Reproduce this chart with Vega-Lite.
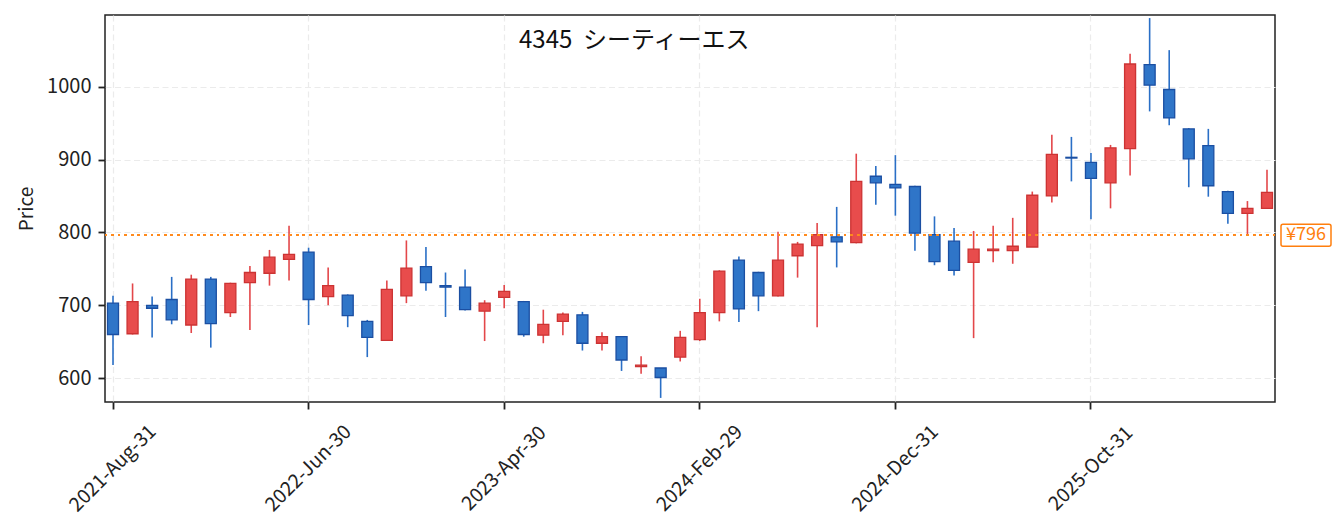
{
  "$schema": "https://vega.github.io/schema/vega-lite/v6.json",
  "width": 1170,
  "height": 387,
  "autosize": {"type": "none"},
  "padding": {"left": 105, "top": 15, "right": 66, "bottom": 130},
  "background": "white",
  "title": {"text": "4345\u00a0\u00a0シーティーエス", "anchor": "start", "frame": "group", "dx": 414, "offset": -38, "baseline": "top", "font": "Noto Sans CJK JP", "fontSize": 24, "fontWeight": "normal", "color": "#111111"},
  "config": {"view": {"stroke": "#222222", "strokeWidth": 1.5}, "font": "Noto Sans CJK JP"},
  "data": {"values": [
    {"date": "2021-Aug-31", "open": 703, "high": 713, "low": 618, "close": 660},
    {"date": "2021-Sep-30", "open": 661, "high": 730, "low": 660, "close": 705},
    {"date": "2021-Oct-31", "open": 700, "high": 712, "low": 656, "close": 696},
    {"date": "2021-Nov-30", "open": 708, "high": 739, "low": 674, "close": 680},
    {"date": "2021-Dec-31", "open": 673, "high": 742, "low": 662, "close": 736},
    {"date": "2022-Jan-31", "open": 736, "high": 739, "low": 642, "close": 675},
    {"date": "2022-Feb-28", "open": 690, "high": 731, "low": 684, "close": 730},
    {"date": "2022-Mar-31", "open": 731, "high": 754, "low": 666, "close": 745},
    {"date": "2022-Apr-30", "open": 744, "high": 776, "low": 727, "close": 766},
    {"date": "2022-May-31", "open": 763, "high": 809, "low": 734, "close": 770},
    {"date": "2022-Jun-30", "open": 773, "high": 779, "low": 673, "close": 708},
    {"date": "2022-Jul-31", "open": 712, "high": 752, "low": 700, "close": 727},
    {"date": "2022-Aug-31", "open": 714, "high": 715, "low": 670, "close": 686},
    {"date": "2022-Sep-30", "open": 678, "high": 680, "low": 629, "close": 656},
    {"date": "2022-Oct-31", "open": 652, "high": 734, "low": 651, "close": 722},
    {"date": "2022-Nov-30", "open": 713, "high": 789, "low": 703, "close": 751},
    {"date": "2022-Dec-31", "open": 753, "high": 780, "low": 720, "close": 731},
    {"date": "2023-Jan-31", "open": 727, "high": 745, "low": 684, "close": 725},
    {"date": "2023-Feb-28", "open": 725, "high": 749, "low": 693, "close": 694},
    {"date": "2023-Mar-31", "open": 692, "high": 707, "low": 651, "close": 703},
    {"date": "2023-Apr-30", "open": 711, "high": 728, "low": 696, "close": 719},
    {"date": "2023-May-31", "open": 705, "high": 706, "low": 657, "close": 660},
    {"date": "2023-Jun-30", "open": 659, "high": 694, "low": 648, "close": 674},
    {"date": "2023-Jul-31", "open": 678, "high": 690, "low": 659, "close": 688},
    {"date": "2023-Aug-31", "open": 687, "high": 691, "low": 638, "close": 648},
    {"date": "2023-Sep-30", "open": 648, "high": 663, "low": 638, "close": 657},
    {"date": "2023-Oct-31", "open": 657, "high": 657, "low": 610, "close": 625},
    {"date": "2023-Nov-30", "open": 616, "high": 630, "low": 606, "close": 618},
    {"date": "2023-Dec-31", "open": 614, "high": 614, "low": 573, "close": 601},
    {"date": "2024-Jan-31", "open": 629, "high": 665, "low": 623, "close": 656},
    {"date": "2024-Feb-29", "open": 653, "high": 709, "low": 651, "close": 690},
    {"date": "2024-Mar-31", "open": 690, "high": 748, "low": 678, "close": 747},
    {"date": "2024-Apr-30", "open": 762, "high": 767, "low": 677, "close": 695},
    {"date": "2024-May-31", "open": 745, "high": 746, "low": 692, "close": 713},
    {"date": "2024-Jun-30", "open": 713, "high": 801, "low": 712, "close": 762},
    {"date": "2024-Jul-31", "open": 768, "high": 787, "low": 738, "close": 784},
    {"date": "2024-Aug-31", "open": 782, "high": 813, "low": 670, "close": 797},
    {"date": "2024-Sep-30", "open": 794, "high": 835, "low": 752, "close": 787},
    {"date": "2024-Oct-31", "open": 786, "high": 908, "low": 785, "close": 870},
    {"date": "2024-Nov-30", "open": 877, "high": 891, "low": 838, "close": 868},
    {"date": "2024-Dec-31", "open": 866, "high": 906, "low": 823, "close": 861},
    {"date": "2025-Jan-31", "open": 863, "high": 864, "low": 775, "close": 799},
    {"date": "2025-Feb-28", "open": 797, "high": 822, "low": 755, "close": 760},
    {"date": "2025-Mar-31", "open": 788, "high": 806, "low": 741, "close": 748},
    {"date": "2025-Apr-30", "open": 759, "high": 802, "low": 655, "close": 777},
    {"date": "2025-May-31", "open": 775, "high": 809, "low": 759, "close": 777},
    {"date": "2025-Jun-30", "open": 775, "high": 820, "low": 757, "close": 781},
    {"date": "2025-Jul-31", "open": 780, "high": 856, "low": 780, "close": 851},
    {"date": "2025-Aug-31", "open": 850, "high": 934, "low": 841, "close": 907},
    {"date": "2025-Sep-30", "open": 903, "high": 931, "low": 870, "close": 902},
    {"date": "2025-Oct-31", "open": 896, "high": 909, "low": 818, "close": 874},
    {"date": "2025-Nov-30", "open": 868, "high": 920, "low": 833, "close": 916},
    {"date": "2025-Dec-31", "open": 915, "high": 1045, "low": 878, "close": 1031},
    {"date": "2026-Jan-31", "open": 1030, "high": 1094, "low": 966, "close": 1002},
    {"date": "2026-Feb-28", "open": 996, "high": 1050, "low": 947, "close": 957},
    {"date": "2026-Mar-31", "open": 942, "high": 943, "low": 862, "close": 901},
    {"date": "2026-Apr-30", "open": 919, "high": 942, "low": 849, "close": 864},
    {"date": "2026-May-31", "open": 856, "high": 857, "low": 812, "close": 826},
    {"date": "2026-Jun-30", "open": 826, "high": 843, "low": 797, "close": 833},
    {"date": "2026-Jul-31", "open": 833, "high": 886, "low": 832, "close": 855}
  ]},
  "layer": [
    {
      "mark": {"type": "rule", "strokeWidth": 1.6},
      "encoding": {
        "x": {"field": "date", "type": "ordinal", "sort": null,
          "scale": {"type": "band", "paddingInner": 0.4376, "paddingOuter": 0.128},
          "axis": {"values": ["2021-Aug-31", "2022-Jun-30", "2023-Apr-30", "2024-Feb-29", "2024-Dec-31", "2025-Oct-31"],
            "title": null, "labelAngle": -45, "labelAlign": "center", "labelBaseline": "middle", "labelPadding": 59,
            "labelOverlap": false, "labelBound": false, "labelFlush": false,
            "labelFont": "Noto Sans CJK JP", "labelFontSize": 19.5, "labelColor": "#222222",
            "tickSize": 7, "tickWidth": 1.8, "tickColor": "#222222", "domain": false,
            "grid": true, "gridDash": [6, 3.5], "gridColor": "#ebebeb", "gridWidth": 1.2}},
        "y": {"field": "low", "type": "quantitative",
          "scale": {"domain": [567.4, 1098.2], "nice": false, "zero": false},
          "axis": {"values": [600, 700, 800, 900, 1000], "format": "d", "title": "Price", "titleFont": "Noto Sans CJK JP", "titleFontSize": 19,
            "titleFontWeight": "normal", "titleColor": "#222222", "titlePadding": 10,
            "labelFont": "Noto Sans CJK JP", "labelFontSize": 20, "labelColor": "#222222", "labelPadding": 7,
            "tickSize": 7, "tickWidth": 1.8, "tickColor": "#222222", "domain": false,
            "grid": true, "gridDash": [6, 3.5], "gridColor": "#ebebeb", "gridWidth": 1.2}},
        "y2": {"field": "high"},
        "color": {"condition": {"test": "datum.close >= datum.open", "value": "#e3474a"}, "value": "#2a6fc6"}
      }
    },
    {
      "mark": {"type": "bar", "strokeWidth": 1.3},
      "encoding": {
        "x": {"field": "date", "type": "ordinal", "sort": null,
          "scale": {"type": "band", "paddingInner": 0.4376, "paddingOuter": 0.128}},
        "y": {"field": "open", "type": "quantitative", "scale": {"domain": [567.4, 1098.2], "nice": false, "zero": false}},
        "y2": {"field": "close"},
        "fill": {"condition": {"test": "datum.close >= datum.open", "value": "#e84c4c"}, "value": "#2f75c8"},
        "stroke": {"condition": {"test": "datum.close >= datum.open", "value": "#cc3333"}, "value": "#1b4fa2"}
      }
    },
    {
      "mark": {"type": "rule", "color": "#ff8a1f", "strokeWidth": 1.5, "strokeDash": [2, 4.6]},
      "encoding": {
        "y": {"datum": 796, "type": "quantitative", "scale": {"domain": [567.4, 1098.2], "nice": false, "zero": false}}
      }
    },
    {
      "transform": [{"filter": "datum.date === '2026-Jul-31'"}],
      "mark": {"type": "point", "shape": "M-0.92,-0.44H0.92Q1,-0.44 1,-0.36V0.36Q1,0.44 0.92,0.44H-0.92Q-1,0.44 -1,0.36V-0.36Q-1,-0.44 -0.92,-0.44Z",
        "size": 2500, "filled": true, "fill": "white", "stroke": "#ff7f0e", "strokeWidth": 1.5, "opacity": 1, "fillOpacity": 1, "strokeOpacity": 1, "xOffset": 39},
      "encoding": {
        "x": {"field": "date", "type": "ordinal", "sort": null,
          "scale": {"type": "band", "paddingInner": 0.4376, "paddingOuter": 0.128}},
        "y": {"datum": 796, "type": "quantitative", "scale": {"domain": [567.4, 1098.2], "nice": false, "zero": false}}
      }
    },
    {
      "transform": [{"filter": "datum.date === '2026-Jul-31'"}],
      "mark": {"type": "text", "text": "¥796", "dx": 39, "align": "center", "baseline": "middle", "font": "Noto Sans CJK JP", "fontSize": 18, "color": "#ff7f0e"},
      "encoding": {
        "x": {"field": "date", "type": "ordinal", "sort": null,
          "scale": {"type": "band", "paddingInner": 0.4376, "paddingOuter": 0.128}},
        "y": {"datum": 796, "type": "quantitative", "scale": {"domain": [567.4, 1098.2], "nice": false, "zero": false}}
      }
    }
  ]
}
